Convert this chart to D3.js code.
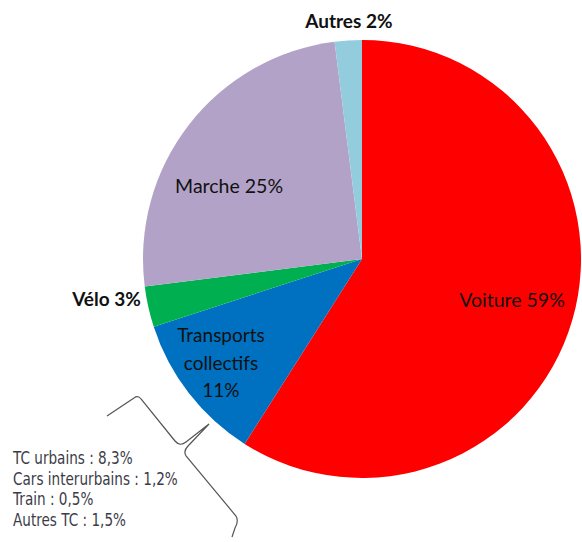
<!DOCTYPE html>
<html>
<head>
<meta charset="utf-8">
<script src="https://cdn.jsdelivr.net/npm/d3@7/dist/d3.min.js"></script>
<style>
  html, body { margin: 0; padding: 0; background: #fff; }
  svg { display: block; }
</style>
</head>
<body>
<svg id="chart" width="582" height="542"></svg>
<script>
// Modal share, clockwise from 12 o'clock
const categories = ["Voiture", "Transports collectifs", "Vélo", "Marche", "Autres"];
const shares = [59, 11, 3, 25, 2];
const colors = ["#FF0000", "#0070C0", "#00B050", "#B3A2C7", "#93CDDD"];

// Breakdown of public transport
const tcDetail = ["TC urbains : 8,3%", "Cars interurbains : 1,2%", "Train : 0,5%", "Autres TC : 1,5%"];

const svg = d3.select("#chart");
const cx = 362, cy = 259, R = 219;

const pie = d3.pie().sort(null).value(d => d.value);
const arc = d3.arc().innerRadius(0).outerRadius(R);

const data = categories.map((c, i) => ({ name: c, value: shares[i], color: colors[i] }));
const arcs = pie(data);

const g = svg.append("g").attr("transform", `translate(${cx},${cy})`);

g.selectAll("path.slice")
  .data(arcs)
  .join("path")
  .attr("class", "slice")
  .attr("d", arc)
  .attr("fill", d => d.data.color);

// Label placement relative to the pie centre, in units of the radius
const labelLayout = {
  "Voiture":               { dx: 0.685, dy: 0.22, anchor: "middle", bold: false, size: 19.5, lines: d => [`Voiture ${d.value}%`] },
  "Transports collectifs": { dx: -0.644, dy: 0.38, anchor: "middle", bold: false, size: 19, lines: d => ["Transports", "collectifs", `${d.value}%`] },
  "Vélo":                  { dx: -1.01, dy: 0.215, anchor: "end", bold: true, size: 19, lines: d => [`Vélo ${d.value}%`] },
  "Marche":                { dx: -0.607, dy: -0.3, anchor: "middle", bold: false, size: 19.5, lines: d => [`Marche ${d.value}%`] },
  "Autres":                { dx: -0.06, dy: -1.055, anchor: "middle", bold: true, size: 19, lines: d => [`Autres ${d.value}%`] }
};

arcs.forEach(a => {
  const L = labelLayout[a.data.name];
  const t = g.append("text")
    .attr("x", L.dx * R)
    .attr("y", L.dy * R)
    .attr("text-anchor", L.anchor)
    .attr("font-family", "Lato, 'Open Sans', sans-serif")
    .attr("font-size", L.size)
    .attr("font-weight", L.bold ? 700 : 400)
    .attr("fill", "#111");
  L.lines(a.data).forEach((s, i) => {
    t.append("tspan").attr("x", L.dx * R).attr("dy", i === 0 ? 0 : 27.5).text(s);
  });
});

// Curly brace pointing at the public transport slice
svg.append("path")
  .attr("d", "M107,416 L134,398 Q138,395 141,399 L175,441 Q180,447 186,442 L209,424 L188,446 Q183,451 186,456 L236,516 Q239,521 235,528 L232,537")
  .attr("fill", "none")
  .attr("stroke", "#555")
  .attr("stroke-width", 1.2);

// Narrow breakdown text under the brace
const detail = svg.append("g")
  .attr("transform", "translate(13,464) scale(0.8,1)")
  .append("text")
  .attr("x", 0)
  .attr("y", 0)
  .attr("font-family", "'DejaVu Sans', sans-serif")
  .attr("font-size", 17)
  .attr("fill", "#3c3c48");
tcDetail.forEach((s, i) => {
  detail.append("tspan").attr("x", 0).attr("dy", i === 0 ? 0 : 20.7).text(s);
});
</script>
</body>
</html>
